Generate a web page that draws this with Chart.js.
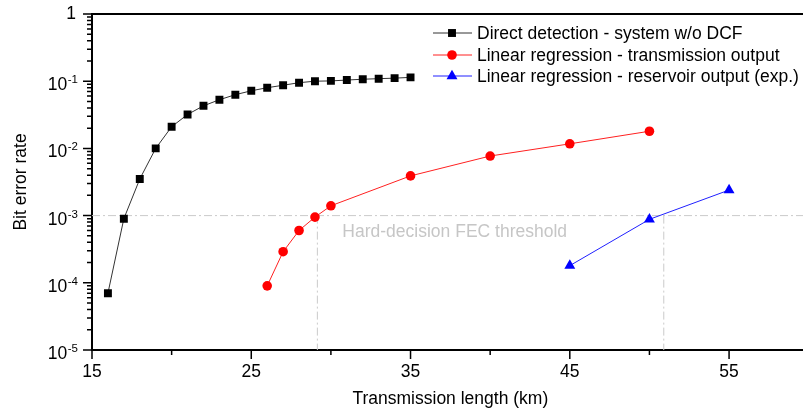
<!DOCTYPE html>
<html>
<head>
<meta charset="utf-8">
<script src="https://cdn.jsdelivr.net/npm/chart.js@4.4.0/dist/chart.umd.min.js"></script>
<style>
    html, body { margin: 0; padding: 0; background: #fff; overflow: hidden; }
    #wrap { width: 803px; height: 413px; overflow: hidden; }
</style>
</head>
<body>
<div id="wrap"><canvas id="berChart" width="815" height="413"></canvas></div>
<script>
// Direct detection - system w/o DCF
const distanceDD = [16, 17, 18, 19, 20, 21, 22, 23, 24, 25, 26, 27, 28, 29, 30, 31, 32, 33, 34, 35];
const berDD = [7e-5, 9e-4, 3.5e-3, 0.01, 0.021, 0.032, 0.043, 0.053, 0.063, 0.072,
               0.08, 0.087, 0.095, 0.1, 0.101, 0.104, 0.107, 0.109, 0.111, 0.114];

// Linear regression - transmission output
const distanceTx = [26, 27, 28, 29, 30, 35, 40, 45, 50];
const berTx = [9e-5, 2.9e-4, 6e-4, 9.5e-4, 1.4e-3, 3.9e-3, 7.7e-3, 0.0117, 0.018];

// Linear regression - reservoir output (exp.)
const distanceRes = [45, 50, 55];
const berRes = [1.8e-4, 8.8e-4, 2.4e-3];

// FEC threshold and where the curves cross it
const fecThreshold = 1e-3;
const fecCrossings = [29.15, 50.9];

const seriesLabels = [
    'Direct detection - system w/o DCF',
    'Linear regression - transmission output',
    'Linear regression - reservoir output (exp.)'
];

// Axis ticks
const xMajorTicks = [15, 25, 35, 45, 55];
const xMinorTicks = [20, 30, 40, 50];
const yExponents = [0, -1, -2, -3, -4, -5];

const FONT = "'Liberation Sans', Arial, sans-serif";
const FS = 17.5;

function toPoints(xs, ys) {
    return xs.map((x, i) => ({ x: x, y: ys[i] }));
}

function drawMarker(ctx, style, x, y, r, color) {
    ctx.save();
    ctx.fillStyle = color;
    ctx.beginPath();
    if (style === 'rect') {
        const s = r * Math.SQRT1_2;
        ctx.rect(x - s, y - s, 2 * s, 2 * s);
    } else if (style === 'triangle') {
        ctx.moveTo(x, y - r);
        ctx.lineTo(x + r * 0.866, y + r * 0.5);
        ctx.lineTo(x - r * 0.866, y + r * 0.5);
        ctx.closePath();
    } else {
        ctx.arc(x, y, r, 0, Math.PI * 2);
    }
    ctx.fill();
    ctx.restore();
}

// Frame, tick marks, tick labels, legend and the threshold note
const decorPlugin = {
    id: 'decor',
    afterDraw(chart) {
        const ctx = chart.ctx;
        const area = chart.chartArea;
        const xs = chart.scales.x;
        const ys = chart.scales.y;

        ctx.save();
        ctx.strokeStyle = '#000';
        ctx.lineWidth = 2;
        ctx.beginPath();
        ctx.moveTo(area.left - 1, area.top);
        ctx.lineTo(area.right, area.top);
        ctx.lineTo(area.right, area.bottom);
        ctx.stroke();

        // y ticks
        ctx.lineWidth = 1.5;
        ctx.beginPath();
        for (let e = -5; e <= 0; e++) {
            const py = ys.getPixelForValue(Math.pow(10, e));
            ctx.moveTo(area.left - 9, py);
            ctx.lineTo(area.left, py);
            if (e < 0) {
                for (let k = 2; k <= 9; k++) {
                    const pm = ys.getPixelForValue(k * Math.pow(10, e));
                    ctx.moveTo(area.left - 5, pm);
                    ctx.lineTo(area.left, pm);
                }
            }
        }
        // x ticks
        xMajorTicks.forEach(v => {
            const px = xs.getPixelForValue(v);
            ctx.moveTo(px, area.bottom);
            ctx.lineTo(px, area.bottom + 9);
        });
        xMinorTicks.forEach(v => {
            const px = xs.getPixelForValue(v);
            ctx.moveTo(px, area.bottom);
            ctx.lineTo(px, area.bottom + 5);
        });
        ctx.stroke();

        // tick labels
        ctx.fillStyle = '#000';
        ctx.font = FS + 'px ' + FONT;
        ctx.textAlign = 'center';
        ctx.textBaseline = 'middle';
        xMajorTicks.forEach(v => {
            ctx.fillText(String(v), xs.getPixelForValue(v), area.bottom + 22);
        });

        yExponents.forEach(e => {
            const py = ys.getPixelForValue(Math.pow(10, e));
            if (e === 0) {
                ctx.font = FS + 'px ' + FONT;
                ctx.textAlign = 'right';
                ctx.textBaseline = 'middle';
                ctx.fillText('1', area.left - 16, py);
                return;
            }
            const sup = '-' + Math.abs(e);
            ctx.font = '11.5px ' + FONT;
            const supW = ctx.measureText(sup).width;
            const right = area.left - 14;
            ctx.textAlign = 'right';
            ctx.textBaseline = 'alphabetic';
            ctx.fillText(sup, right, py + 2);
            ctx.font = FS + 'px ' + FONT;
            ctx.fillText('10', right - supW - 0.5, py + 9);
        });

        // threshold note
        ctx.fillStyle = '#c6c6c6';
        ctx.font = FS + 'px ' + FONT;
        ctx.textAlign = 'left';
        ctx.textBaseline = 'middle';
        ctx.fillText('Hard-decision FEC threshold',
            xs.getPixelForValue(fecCrossings[0]) + 25,
            ys.getPixelForValue(fecThreshold) + 17);

        // legend
        const rows = [33, 55, 76];
        chart.data.datasets.slice(0, 3).forEach((ds, i) => {
            const y = rows[i];
            ctx.strokeStyle = ds.borderColor;
            ctx.lineWidth = 1;
            ctx.beginPath();
            ctx.moveTo(433, y);
            ctx.lineTo(472, y);
            ctx.stroke();
            drawMarker(ctx, ds.pointStyle, 452, y, ds.pointRadius, ds.pointBackgroundColor);
            ctx.fillStyle = '#000';
            ctx.font = FS + 'px ' + FONT;
            ctx.textAlign = 'left';
            ctx.textBaseline = 'middle';
            ctx.fillText(ds.label, 477, y + 1);
        });
        ctx.restore();
    }
};

const thresholdStyle = {
    borderColor: '#cacaca',
    borderWidth: 1,
    borderDash: [8, 3, 2, 3],
    pointRadius: 0,
    fill: false
};

new Chart(document.getElementById('berChart'), {
    type: 'line',
    data: {
        datasets: [
            {
                label: seriesLabels[0],
                data: toPoints(distanceDD, berDD),
                borderColor: '#333333',
                borderWidth: 1,
                pointStyle: 'rect',
                pointRadius: 5.6,
                pointBackgroundColor: '#000',
                pointBorderWidth: 0
            },
            {
                label: seriesLabels[1],
                data: toPoints(distanceTx, berTx),
                borderColor: '#ff2020',
                borderWidth: 1,
                pointStyle: 'circle',
                pointRadius: 4.8,
                pointBackgroundColor: '#ff0000',
                pointBorderWidth: 0
            },
            {
                label: seriesLabels[2],
                data: toPoints(distanceRes, berRes),
                borderColor: '#2020ff',
                borderWidth: 1,
                pointStyle: 'triangle',
                pointRadius: 6.3,
                pointBackgroundColor: '#0000ff',
                pointBorderWidth: 0
            },
            Object.assign({ label: 'FEC', data: [{ x: 15, y: fecThreshold }, { x: 60, y: fecThreshold }] }, thresholdStyle),
            Object.assign({ label: 'FEC1', data: [{ x: fecCrossings[0], y: fecThreshold }, { x: fecCrossings[0], y: 1e-5 }] }, thresholdStyle),
            Object.assign({ label: 'FEC2', data: [{ x: fecCrossings[1], y: fecThreshold }, { x: fecCrossings[1], y: 1e-5 }] }, thresholdStyle)
        ]
    },
    options: {
        responsive: false,
        animation: false,
        layout: { padding: { left: 0, top: 14, right: 5, bottom: 0 } },
        plugins: {
            legend: { display: false },
            tooltip: { enabled: false }
        },
        scales: {
            x: {
                type: 'linear',
                min: 15,
                max: 60,
                ticks: { display: false },
                grid: { display: false },
                border: { display: true, color: '#000', width: 2 },
                title: {
                    display: true,
                    text: 'Transmission length (km)',
                    color: '#000',
                    font: { family: FONT, size: FS },
                    padding: { top: 0, bottom: 3 }
                },
                afterFit: scale => { scale.height = 63; }
            },
            y: {
                type: 'logarithmic',
                min: 1e-5,
                max: 1,
                ticks: { display: false },
                grid: { display: false },
                border: { display: true, color: '#000', width: 2 },
                title: {
                    display: true,
                    text: 'Bit error rate',
                    color: '#000',
                    font: { family: FONT, size: FS },
                    padding: { top: 11, bottom: 0 }
                },
                afterFit: scale => { scale.width = 92; }
            }
        }
    },
    plugins: [decorPlugin]
});
</script>
</body>
</html>
